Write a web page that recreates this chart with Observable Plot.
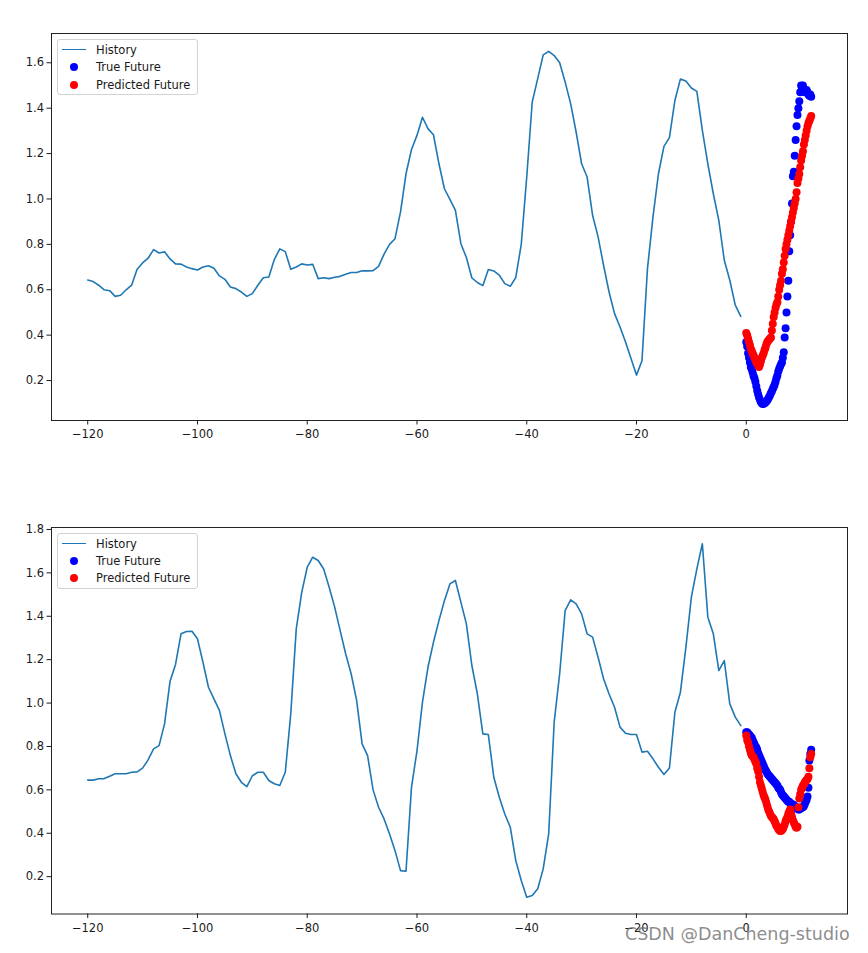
<!DOCTYPE html>
<html>
<head>
<meta charset="utf-8">
<script src="https://cdn.jsdelivr.net/npm/d3@7"></script>
<script src="https://cdn.jsdelivr.net/npm/@observablehq/plot@0.6"></script>
<style>
  body { margin: 0; background: #fff; }
  #wrap { position: relative; width: 868px; height: 953px; font-family: "DejaVu Sans", sans-serif; overflow: hidden; }
  .panel { position: absolute; left: 0; }
  .legend { position: absolute; left: 57px; width: 141px; height: 56px; border: 1px solid #d3d3d3; border-radius: 3px;
            background: rgba(255,255,255,0.8); box-sizing: border-box; font-size: 11.5px; color: #1a1a1a; }
  .entry { position: absolute; left: 0; height: 14px; width: 140px; }
  .entry .line { position: absolute; left: 4px; top: 6px; width: 24px; height: 0; border-top: 1.6px solid #1f77b4; }
  .entry .dot { position: absolute; left: 12px; top: 3px; width: 8px; height: 8px; border-radius: 50%; }
  .entry .lab { position: absolute; left: 38px; top: 0; line-height: 14px; white-space: nowrap; }
  .wm { position: absolute; left: 625px; top: 926px; font-size: 17.5px; line-height: 17.5px; color: rgba(110,110,110,0.8); white-space: nowrap; }
</style>
</head>
<body>
<div id="wrap"></div>
<script>
// ---------- data ----------
const xTicks = [-120, -100, -80, -60, -40, -20, 0];
const yTicksTop = [0.2, 0.4, 0.6, 0.8, 1.0, 1.2, 1.4, 1.6];
const yTicksBottom = [0.2, 0.4, 0.6, 0.8, 1.0, 1.2, 1.4, 1.6, 1.8];
const legendLabels = ["History", "True Future", "Predicted Future"];
const watermark = "CSDN @DanCheng-studio";

// history: 120 steps, t = -120 .. -1
const historyTop = [
  0.643, 0.636, 0.62, 0.60, 0.596, 0.571, 0.576, 0.60, 0.62, 0.69,
  0.718, 0.739, 0.777, 0.762, 0.767, 0.736, 0.714, 0.713, 0.70, 0.693,
  0.687, 0.70, 0.706, 0.695, 0.661, 0.646, 0.612, 0.605, 0.59, 0.571,
  0.583, 0.62, 0.653, 0.656, 0.733, 0.78, 0.768, 0.69, 0.70, 0.714,
  0.709, 0.712, 0.649, 0.653, 0.649, 0.655, 0.659, 0.668, 0.676, 0.676,
  0.684, 0.683, 0.684, 0.703, 0.757, 0.80, 0.825, 0.943, 1.111, 1.218,
  1.28, 1.36, 1.31, 1.283, 1.155, 1.045, 0.998, 0.95,
  0.803, 0.742, 0.652, 0.632, 0.618, 0.689, 0.683, 0.664, 0.627, 0.615,
  0.654, 0.80, 1.097, 1.427, 1.53, 1.635, 1.65, 1.632, 1.60, 1.515,
  1.42, 1.295, 1.155, 1.097, 0.928, 0.833, 0.708, 0.59, 0.495, 0.436,
  0.37, 0.297, 0.224, 0.287, 0.693, 0.92, 1.111, 1.232, 1.27, 1.434,
  1.528, 1.52, 1.489, 1.474, 1.302, 1.155, 1.023, 0.906, 0.73, 0.642,
  0.532, 0.483
];
// future: 72 steps, t = i/6
const trueFutureTop = [
  0.37, 0.35, 0.32, 0.30, 0.28, 0.26, 0.25, 0.235, 0.22, 0.21,
  0.195, 0.175, 0.155, 0.14, 0.125, 0.115, 0.105, 0.10, 0.097, 0.098,
  0.10, 0.103, 0.108, 0.113, 0.12, 0.127, 0.135, 0.145, 0.153, 0.163,
  0.172, 0.182, 0.195, 0.21, 0.222, 0.24, 0.252, 0.262, 0.272, 0.28,
  0.30, 0.325, 0.39, 0.43, 0.50, 0.57, 0.64, 0.77, 0.84, 0.90,
  0.98, 1.10, 1.12, 1.19, 1.26, 1.32, 1.37, 1.40, 1.43, 1.47,
  1.50, 1.49, 1.50, 1.48, 1.47, 1.48, 1.48, 1.47, 1.46, 1.455,
  1.46, 1.45
];
const predFutureTop = [
  0.41, 0.40, 0.385, 0.37, 0.355, 0.34, 0.33, 0.32, 0.31, 0.30,
  0.29, 0.28, 0.275, 0.265, 0.26, 0.27, 0.285, 0.30, 0.31, 0.32,
  0.335, 0.345, 0.36, 0.37, 0.375, 0.38, 0.385, 0.39, 0.42, 0.45,
  0.48, 0.50, 0.52, 0.535, 0.545, 0.57, 0.60, 0.62, 0.64, 0.67,
  0.69, 0.72, 0.75, 0.78, 0.80, 0.82, 0.84, 0.86, 0.88, 0.90,
  0.92, 0.94, 0.96, 0.98, 1.00, 1.03, 1.07, 1.09, 1.11, 1.14,
  1.17, 1.19, 1.21, 1.24, 1.26, 1.28, 1.30, 1.32, 1.335, 1.345,
  1.355, 1.365
];

const historyBottom = [
  0.645, 0.645, 0.651, 0.652, 0.663, 0.674, 0.674, 0.674, 0.681, 0.683,
  0.70, 0.738, 0.789, 0.804, 0.904, 1.10, 1.178, 1.319, 1.33, 1.331,
  1.296, 1.188, 1.073, 1.019, 0.966, 0.858, 0.758, 0.674, 0.635, 0.615,
  0.665, 0.681, 0.681, 0.643, 0.628, 0.62, 0.681, 0.95, 1.342, 1.51,
  1.626, 1.672, 1.657, 1.618, 1.534, 1.442, 1.334, 1.227, 1.135, 1.012,
  0.812, 0.758, 0.60, 0.52, 0.466, 0.397, 0.32, 0.228, 0.225, 0.612,
  0.78, 1.004, 1.165, 1.28, 1.38, 1.472, 1.549, 1.565,
  1.465, 1.365, 1.173, 1.042, 0.858, 0.855, 0.658, 0.566, 0.489, 0.428,
  0.274, 0.182, 0.105, 0.113, 0.144, 0.236, 0.397, 0.912, 1.135, 1.426,
  1.476, 1.457, 1.411, 1.319, 1.304, 1.211, 1.112, 1.042, 0.981, 0.889,
  0.861, 0.855, 0.855, 0.774, 0.778, 0.743, 0.704, 0.671, 0.701, 0.958,
  1.05, 1.257, 1.488, 1.618, 1.734, 1.396, 1.319, 1.15, 1.196, 0.996,
  0.935, 0.896
];
const trueFutureBottom = [
  0.865, 0.865, 0.86, 0.855, 0.85, 0.845, 0.84, 0.83, 0.82, 0.81,
  0.80, 0.795, 0.785, 0.77, 0.76, 0.75, 0.74, 0.73, 0.72, 0.71,
  0.70, 0.69, 0.685, 0.675, 0.67, 0.665, 0.66, 0.655, 0.65, 0.645,
  0.64, 0.635, 0.63, 0.625, 0.62, 0.61, 0.605, 0.60, 0.59, 0.58,
  0.575, 0.57, 0.565, 0.56, 0.555, 0.55, 0.545, 0.545, 0.54, 0.535,
  0.535, 0.53, 0.53, 0.525, 0.52, 0.515, 0.515, 0.51, 0.51, 0.515,
  0.515, 0.52, 0.52, 0.525, 0.535, 0.545, 0.555, 0.57, 0.61, 0.735,
  0.765, 0.785
];
const predFutureBottom = [
  0.85, 0.83, 0.82, 0.80, 0.785, 0.77, 0.76, 0.755, 0.75, 0.74,
  0.73, 0.72, 0.70, 0.685, 0.66, 0.635, 0.62, 0.605, 0.59, 0.575,
  0.565, 0.555, 0.54, 0.525, 0.51, 0.50, 0.49, 0.48, 0.475, 0.47,
  0.465, 0.455, 0.445, 0.435, 0.43, 0.42, 0.415, 0.41, 0.41, 0.415,
  0.42, 0.43, 0.44, 0.455, 0.465, 0.475, 0.49, 0.50, 0.51, 0.49,
  0.475, 0.46, 0.45, 0.44, 0.43, 0.425, 0.43, 0.52, 0.56, 0.58,
  0.60, 0.61, 0.62, 0.625, 0.635, 0.64, 0.645, 0.65, 0.66, 0.70,
  0.75, 0.765
];

// ---------- drawing ----------
const STEP = 6;
const fmtX = d3.format("d");
const fmtY = d3.format(".1f");

function makePanel(hist, tru, pred, yDomain, yTicks, height, mt, mb) {
  const histData = hist.map((v, i) => ({t: i - hist.length, v}));
  const truData = tru.map((v, i) => ({t: i / STEP, v}));
  const predData = pred.map((v, i) => ({t: i / STEP, v}));
  return Plot.plot({
    width: 868, height,
    marginLeft: 51, marginRight: 21, marginTop: mt, marginBottom: mb,
    style: {fontFamily: "DejaVu Sans, sans-serif", fontSize: "11.5px", color: "#1a1a1a", background: "white", overflow: "visible"},
    x: {domain: [-126.6, 18.45], label: null},
    y: {domain: yDomain, label: null},
    marks: [
      Plot.axisX({ticks: xTicks, tickFormat: fmtX, tickSize: 4.5, tickPadding: 5, label: null}),
      Plot.axisY({ticks: yTicks, tickFormat: fmtY, tickSize: 4.5, tickPadding: 3, label: null}),
      Plot.line(histData, {x: "t", y: "v", stroke: "#1f77b4", strokeWidth: 1.6}),
      Plot.dot(truData, {x: "t", y: "v", fill: "#0000ff", r: 4}),
      Plot.dot(predData, {x: "t", y: "v", fill: "#ff0000", r: 4}),
      Plot.frame({stroke: "#222", strokeWidth: 1})
    ]
  });
}

function makeLegend(top) {
  const box = document.createElement("div");
  box.className = "legend";
  box.style.top = top + "px";
  const centers = [10, 27.3, 44.6];
  const colors = [null, "#0000ff", "#ff0000"];
  legendLabels.forEach((lab, i) => {
    const e = document.createElement("div");
    e.className = "entry";
    e.style.top = (centers[i] - 7) + "px";
    if (i === 0) {
      const l = document.createElement("div"); l.className = "line"; e.appendChild(l);
    } else {
      const d = document.createElement("div"); d.className = "dot"; d.style.background = colors[i]; e.appendChild(d);
    }
    const t = document.createElement("div"); t.className = "lab"; t.textContent = lab; e.appendChild(t);
    box.appendChild(e);
  });
  return box;
}

const wrap = document.getElementById("wrap");

const top1 = makePanel(historyTop, trueFutureTop, predFutureTop, [0.024, 1.729], yTicksTop, 476, 33, 56);
top1.classList.add("panel"); top1.style.top = "0px";
wrap.appendChild(top1);

const bot = makePanel(historyBottom, trueFutureBottom, predFutureBottom, [0.028, 1.809], yTicksBottom, 477, 51, 39.5);
bot.classList.add("panel"); bot.style.top = "476px";
wrap.appendChild(bot);

wrap.appendChild(makeLegend(39));
wrap.appendChild(makeLegend(532.5));

const wm = document.createElement("div");
wm.className = "wm";
wm.textContent = watermark;
wrap.appendChild(wm);
</script>
</body>
</html>
